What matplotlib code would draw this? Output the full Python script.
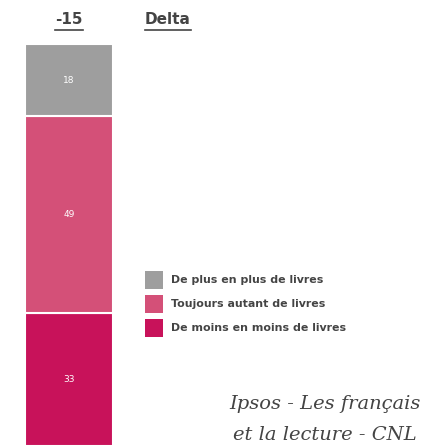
import matplotlib.pyplot as plt
from matplotlib.lines import Line2D
from matplotlib.patches import Rectangle

# Data
categories = ["De moins en moins de livres", "Toujours autant de livres", "De plus en plus de livres"]
values = [33, 49, 18]
colors = ["#c8125a", "#d45078", "#9e9e9e"]
delta = "-15"

fig = plt.figure(figsize=(4.23, 4.46), dpi=100)
W, H = 423, 446

# stacked bar
ax = fig.add_axes([25 / W, 0, 88 / W, 402 / H])
bottom = 0
for v, c in zip(values, colors):
    ax.bar(0, v, bottom=bottom, width=1, color=c, edgecolor="white", linewidth=1.5)
    ax.text(0, bottom + v / 2, str(v), ha="center", va="center", color="white",
            fontsize=6.5)
    bottom += v
ax.set_xlim(-0.5, 0.5)
ax.set_ylim(0, 100)
ax.axis("off")

# headers with underline
def header(txt, x, y):
    t = fig.text(x / W, 1 - y / H, txt, ha="center", va="center", fontsize=11,
                 fontweight="bold", color="#444444")
    fig.canvas.draw()
    bb = t.get_window_extent()
    fig.add_artist(Line2D([bb.x0 / W, bb.x1 / W], [(bb.y0 - 2) / H] * 2,
                          color="#444444", linewidth=1.2))

header(delta, 69, 20)
header("Delta", 168, 20)

# legend
ys = [280, 304, 328]
for lab, c, y in zip(categories[::-1], colors[::-1], ys):
    fig.add_artist(Rectangle((145 / W, 1 - (y + 9) / H), 18 / W, 18 / H,
                             transform=fig.transFigure, facecolor=c, linewidth=0))
    fig.text(171 / W, 1 - y / H, lab, ha="left", va="center", fontsize=7.9,
             fontweight="bold", color="#444444")

# source caption
fig.text(325 / W, 1 - 404 / H, "Ipsos - Les français", ha="center", va="center",
         fontsize=14, style="italic", family="DejaVu Serif", color="#444444")
fig.text(325 / W, 1 - 435 / H, "et la lecture - CNL", ha="center", va="center",
         fontsize=14, style="italic", family="DejaVu Serif", color="#444444")

fig.savefig("out.png", dpi=100)
